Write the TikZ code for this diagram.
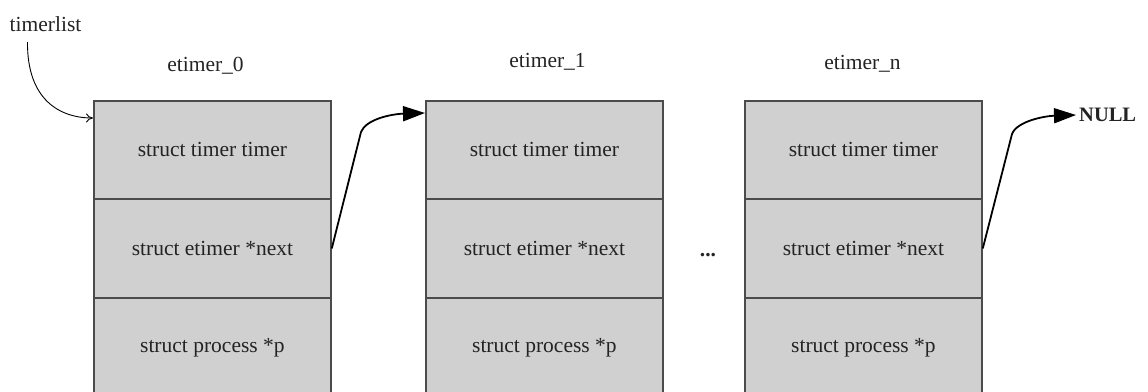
\documentclass[tikz,border=0pt]{standalone}
\usepackage{fontspec}
\setmainfont{Liberation Serif}
\usetikzlibrary{arrows.meta}
\definecolor{boxfill}{RGB}{208,208,208}
\definecolor{boxline}{RGB}{75,75,75}
\definecolor{txt}{RGB}{35,35,35}
\begin{document}
\begin{tikzpicture}[x=1pt,y=-1pt,
  every node/.style={font=\fontsize{21.5}{24}\selectfont, text=txt, inner sep=0pt},
  cell/.style={draw=boxline, line width=1.8pt, fill=boxfill, minimum width=237pt, anchor=north west},
  lbl/.style={anchor=center},
  nextarrow/.style={line width=1.8pt, -{Triangle[length=22pt,width=15pt]}},
  listarrow/.style={line width=0.9pt, -{To[length=7pt,width=9pt]}}
]
\useasboundingbox (0,0) rectangle (1148,391);
% boxes
\foreach \n/\x in {0/93,1/425,n/744}{
  \node[cell, minimum height=98pt] (e\n a) at (\x,100) {struct timer timer};
  \node[cell, minimum height=99pt] (e\n b) at (\x,198) {struct etimer *next};
  \node[cell, minimum height=99pt] (e\n c) at (\x,297) {struct process *p};
}
% labels
\node[lbl] (tl) at (45.5,24) {timerlist};
\node[lbl] (l0) at (205.5,66) {etimer\_0};
\node[lbl] (l1) at (547.5,62) {etimer\_1};
\node[lbl] (ln) at (862.5,64) {etimer\_n};
\node[anchor=base] (dots) at (708,256) {\bfseries ...};
\node[anchor=west] (null) at (1079,115) {\bfseries\fontsize{20.5}{24}\selectfont NULL};
% arrows
\coordinate (tls) at (27.5,42);
\coordinate (e0in) at (93,118);
\draw[listarrow] (tls) .. controls (27,100) and (60,118) .. (e0in);
\coordinate (b1) at (361,132);
\coordinate (e1in) at (425,113);
\draw[nextarrow] (e0b.east) -- (b1) .. controls (366,119) and (392,114) .. (e1in);
\coordinate (b2) at (1012,134);
\draw[nextarrow] (enb.east) -- (b2) .. controls (1017,121) and (1045,116) .. ([xshift=-3pt]null.west);
\end{tikzpicture}
\end{document}
